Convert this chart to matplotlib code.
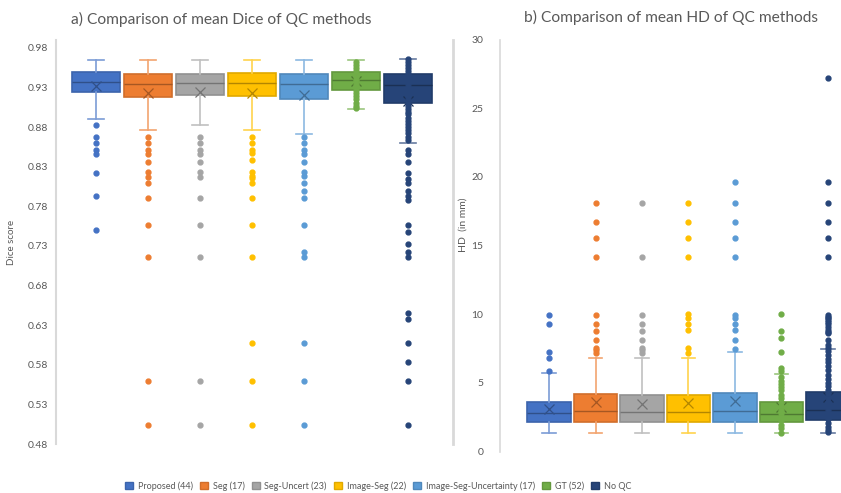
import numpy as np
import matplotlib.pyplot as plt
from matplotlib.colors import to_rgb
from matplotlib.patches import Patch

plt.rcParams['font.family'] = ['Lato', 'DejaVu Sans']

methods = ["Proposed (44)", "Seg (17)", "Seg-Uncert (23)", "Image-Seg (22)",
           "Image-Seg-Uncertainty (17)", "GT (52)", "No QC"]
colors = ["#4472C4", "#ED7D31", "#A5A5A5", "#FFC000", "#5B9BD5", "#70AD47", "#264478"]

# a) mean Dice
dice_lo = [0.890, 0.876, 0.883, 0.876, 0.871, 0.903, 0.860]
dice_q1 = [0.924, 0.918, 0.920, 0.919, 0.916, 0.927, 0.911]
dice_med = [0.937, 0.935, 0.936, 0.936, 0.935, 0.939, 0.933]
dice_q3 = [0.949, 0.947, 0.947, 0.948, 0.947, 0.950, 0.947]
dice_hi = [0.965, 0.965, 0.965, 0.965, 0.965, 0.965, 0.966]
dice_mean = [0.932, 0.923, 0.924, 0.923, 0.920, 0.938, 0.913]
dice_out = [
    [0.883, 0.868, 0.860, 0.851, 0.846, 0.822, 0.793, 0.750],
    [0.868, 0.860, 0.851, 0.846, 0.836, 0.823, 0.817, 0.810, 0.790, 0.757, 0.716, 0.559, 0.504],
    [0.868, 0.860, 0.851, 0.846, 0.836, 0.823, 0.817, 0.790, 0.757, 0.716, 0.559, 0.504],
    [0.868, 0.860, 0.851, 0.847, 0.838, 0.823, 0.818, 0.816, 0.810, 0.790, 0.757, 0.716,
     0.607, 0.559, 0.504],
    [0.867, 0.860, 0.851, 0.846, 0.836, 0.823, 0.818, 0.810, 0.800, 0.790, 0.757, 0.722,
     0.716, 0.607, 0.559, 0.504],
    [],
    [0.851, 0.846, 0.836, 0.822, 0.815, 0.810, 0.800, 0.793, 0.788, 0.757, 0.747, 0.732,
     0.722, 0.716, 0.645, 0.638, 0.607, 0.583, 0.559, 0.504],
]
dice_inner = [
    [], [], [], [], [],
    [0.962, 0.958, 0.955, 0.951, 0.947, 0.944, 0.941, 0.938, 0.935, 0.931, 0.927, 0.923,
     0.919, 0.915, 0.911, 0.907, 0.904],
    [0.966, 0.962, 0.958, 0.955, 0.951, 0.947, 0.943, 0.939, 0.935, 0.931, 0.927, 0.923,
     0.919, 0.915, 0.911, 0.907, 0.903, 0.899, 0.896, 0.892, 0.888, 0.884, 0.880, 0.876,
     0.872, 0.868, 0.864],
]

# b) mean HD
hd_lo = [1.37, 1.37, 1.37, 1.37, 1.37, 1.37, 1.37]
hd_q1 = [2.17, 2.17, 2.17, 2.17, 2.17, 2.17, 2.29]
hd_med = [2.78, 2.95, 2.85, 2.85, 2.95, 2.76, 3.02]
hd_q3 = [3.63, 4.19, 4.11, 4.11, 4.28, 3.58, 4.36]
hd_hi = [5.74, 6.78, 6.78, 6.78, 7.27, 5.64, 7.44]
hd_mean = [3.10, 3.58, 3.46, 3.50, 3.70, 3.27, 3.95]
hd_out = [
    [9.92, 9.29, 7.27, 6.78, 5.86],
    [9.92, 9.29, 8.78, 8.12, 7.56, 7.39, 7.15, 14.19, 15.53, 16.74, 18.12],
    [9.92, 9.29, 8.78, 8.12, 7.56, 7.39, 7.15, 14.19, 18.12],
    [9.99, 9.70, 9.29, 8.87, 7.52, 7.20, 14.19, 15.53, 16.74, 18.12],
    [9.94, 9.70, 9.29, 8.87, 8.12, 7.44, 14.19, 15.53, 16.74, 18.12, 19.6],
    [9.99, 8.78, 8.24, 7.27],
    [9.94, 9.80, 9.70, 9.55, 9.45, 9.29, 9.09, 8.87, 8.72, 8.60, 8.12, 7.76, 7.56,
     14.19, 15.53, 16.74, 18.12, 19.6, 27.2],
]
hd_inner = [
    [], [], [], [], [],
    [6.06, 5.89, 5.40, 5.16, 4.92, 4.67, 4.48, 4.11, 3.87, 3.63, 3.31, 3.02, 2.78, 2.53,
     2.29, 1.93, 1.69, 1.37],
    [7.3, 7.0, 6.7, 6.5, 6.2, 5.9, 5.6, 5.3, 5.0, 4.8, 4.5, 4.2, 3.9, 3.6, 3.3, 3.0, 2.7,
     2.4, 2.1, 1.8, 1.6, 1.4],
]


def shade(c, f):
    r = np.array(to_rgb(c))
    return tuple(r * f) if f < 1 else tuple(r + (1 - r) * (f - 1))


def draw(ax, lo, q1, med, q3, hi, mean, out, inner, width):
    for i in range(len(methods)):
        st = [dict(whislo=lo[i], q1=q1[i], med=med[i], q3=q3[i], whishi=hi[i],
                   mean=mean[i], fliers=out[i])]
        c = colors[i]
        ax.bxp(st, positions=[i], widths=width, capwidths=0.3, patch_artist=True,
               showmeans=True, manage_ticks=False,
               boxprops=dict(facecolor=c, edgecolor=shade(c, 0.88), linewidth=1.2),
               medianprops=dict(color=shade(c, 0.7), linewidth=1.0),
               whiskerprops=dict(color=shade(c, 1.3), linewidth=1.2),
               capprops=dict(color=shade(c, 1.3), linewidth=1.2),
               meanprops=dict(marker='x', markeredgecolor=shade(c, 0.7), markersize=7,
                              markeredgewidth=0.9),
               flierprops=dict(marker='o', markerfacecolor=c, markeredgecolor=c,
                               markersize=3.5))
        if inner[i]:
            ax.plot(np.full(len(inner[i]), i), inner[i], 'o', color=c, ms=3.5,
                    zorder=5)


fig = plt.figure(figsize=(8.41, 4.93), dpi=100)
txt = "#595959"
grey = "#D9D9D9"

ax1 = fig.add_axes([56 / 841, 1 - 444 / 493, 397 / 841, 404 / 493])
draw(ax1, dice_lo, dice_q1, dice_med, dice_q3, dice_hi, dice_mean, dice_out, dice_inner, 0.92)
ax1.set_xlim(-0.77, 6.865)
ax1.set_ylim(0.48, 0.99)
ax1.set_yticks(np.arange(0.48, 0.981, 0.05))
ax1.set_yticklabels([f"{v:.2f}" for v in np.arange(0.48, 0.981, 0.05)])
ax1.set_xticks([])
ax1.set_ylabel("Dice score", fontsize=7, color=txt)
ax1.yaxis.set_label_coords(-0.102, 0.5)
for s in ["top", "bottom"]:
    ax1.spines[s].set_visible(False)
ax1.spines["left"].set_color(grey)
ax1.spines["left"].set_linewidth(1.5)
ax1.spines["right"].set_color(grey)
ax1.spines["right"].set_linewidth(2)
ax1.tick_params(axis='y', length=0, labelsize=7.5, labelcolor=txt, pad=6)
fig.text(221 / 841, 1 - 19 / 493, "a) Comparison of mean Dice of QC methods",
         ha='center', va='center', fontsize=11.2, color=txt)

ax2 = fig.add_axes([500 / 841, 1 - 451.5 / 493, 341 / 841, 412 / 493])
draw(ax2, hd_lo, hd_q1, hd_med, hd_q3, hd_hi, hd_mean, hd_out, hd_inner, 0.94)
ax2.set_xlim(-1.054, 6.28)
ax2.set_ylim(0, 30)
ax2.set_yticks(range(0, 31, 5))
ax2.set_xticks([])
ax2.set_ylabel("HD  (in mm)", fontsize=7.5, color=txt)
ax2.yaxis.set_label_coords(-0.096, 0.55)
for s in ["top", "bottom", "right"]:
    ax2.spines[s].set_visible(False)
ax2.spines["left"].set_color(grey)
ax2.spines["left"].set_linewidth(1.2)
ax2.tick_params(axis='y', length=0, labelsize=7.5, labelcolor=txt, pad=12)
fig.text(671 / 841, 1 - 17 / 493, "b) Comparison of mean HD of QC methods",
         ha='center', va='center', fontsize=11.2, color=txt)

handles = [Patch(facecolor=c, edgecolor=shade(c, 0.88), label=m) for m, c in zip(methods, colors)]
fig.legend(handles=handles, loc='center', bbox_to_anchor=(378 / 841, 1 - 486 / 493),
           ncol=7, frameon=False, fontsize=6.5, handlelength=0.9, handleheight=0.9,
           handletextpad=0.5, columnspacing=0.8, labelcolor=txt)

fig.savefig("out.png", dpi=100)
